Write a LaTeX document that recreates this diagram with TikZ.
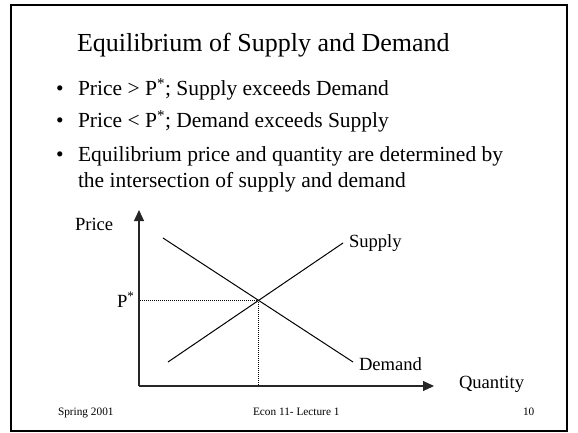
\documentclass[tikz,border=0pt]{standalone}
\usepackage{fontspec}
\setmainfont{Liberation Serif}
\usetikzlibrary{arrows.meta}
\begin{document}
\begin{tikzpicture}[x=1pt,y=-1pt,
  txt/.style={anchor=base west,inner sep=0pt,outer sep=0pt},
  titlefont/.style={font=\fontsize{26}{30}\selectfont},
  bulletfont/.style={font=\fontsize{21.5}{26}\selectfont},
  labelfont/.style={font=\fontsize{18.6}{22}\selectfont},
  footfont/.style={font=\fontsize{11.3}{13}\selectfont},
  axis/.style={line width=1.1pt,draw=black!85,-{Triangle[length=11pt,width=10pt]}},
  curve/.style={line width=1pt},
  guide/.style={line width=0.5pt,dash pattern=on 1pt off 1pt}]
\useasboundingbox (0,0) rectangle (578,433);
\draw[line width=2pt] (11,5.5) rectangle (567,431);
% title
\node[txt,titlefont] (title) at (77,52) {Equilibrium of Supply and Demand};
% bullets
\node[txt,bulletfont] (d1) at (56,96) {\textbullet};
\node[txt,bulletfont] (b1) at (78,96) {Price > P\textsuperscript{*}; Supply exceeds Demand};
\node[txt,bulletfont] (d2) at (56,128) {\textbullet};
\node[txt,bulletfont] (b2) at (78,128) {Price < P\textsuperscript{*}; Demand exceeds Supply};
\node[txt,bulletfont] (d3) at (56,161) {\textbullet};
\node[txt,bulletfont] (b3) at (78,161) {Equilibrium price and quantity are determined by};
\node[txt,bulletfont] (b3b) at (78,187) {the intersection of supply and demand};
% axes
\coordinate (O) at (139,386);
\coordinate (ytip) at (139,210);
\coordinate (xtip) at (434,386);
\draw[axis] (O) -- (ytip);
\draw[axis] (O) -- (xtip);
% curves
\coordinate (d-start) at (163,238);
\coordinate (d-end) at (353,362);
\coordinate (s-start) at (168,362);
\coordinate (s-end) at (343,243);
\draw[curve] (d-start) -- (d-end);
\draw[curve] (s-start) -- (s-end);
\coordinate (E) at (intersection of d-start--d-end and s-start--s-end);
\draw[guide] (E) -- (E -| O);
\draw[guide] (E) -- (E |- O);
% labels
\node[txt,labelfont] (price) at (75,230) {Price};
\node[txt,labelfont] (pstar) at (117,307) {P\textsuperscript{*}};
\node[txt,labelfont] (supply) at (349,247) {Supply};
\node[txt,labelfont] (demand) at (359,370) {Demand};
\node[txt,labelfont] (quantity) at (459,388) {Quantity};
% footer
\node[txt,footfont] (f1) at (58,415) {Spring 2001};
\node[txt,footfont] (f2) at (253,415) {Econ 11- Lecture 1};
\node[txt,footfont] (f3) at (523,415) {10};
\end{tikzpicture}
\end{document}
